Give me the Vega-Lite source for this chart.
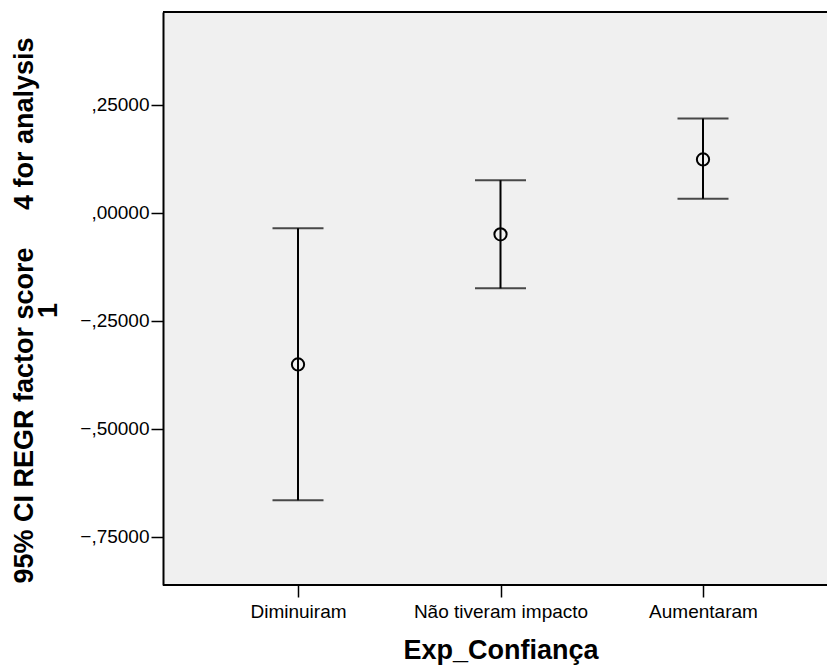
{
  "$schema": "https://vega.github.io/schema/vega-lite/v6.json",
  "autosize": "none",
  "width": 664,
  "height": 573,
  "padding": {"left": 163, "top": 12, "right": 0, "bottom": 84},
  "background": "white",
  "config": {
    "font": "Liberation Sans",
    "view": {"fill": "#f0f0f0", "stroke": null},
    "axis": {
      "grid": false,
      "domainColor": "black",
      "domainWidth": 2,
      "tickColor": "black",
      "tickWidth": 1.5,
      "tickSize": 12,
      "labelColor": "black",
      "labelFont": "Liberation Sans",
      "labelFontSize": 19,
      "titleColor": "black",
      "titleFont": "Liberation Sans",
      "titleFontWeight": "bold",
      "titleFontSize": 27
    }
  },
  "data": {
    "values": [
      {"g": "Diminuiram", "mean": -0.351, "lo": -0.665, "hi": -0.036},
      {"g": "Não tiveram impacto", "mean": -0.050, "lo": -0.175, "hi": 0.075},
      {"g": "Aumentaram", "mean": 0.123, "lo": 0.032, "hi": 0.218}
    ]
  },
  "layer": [
    {
      "mark": {"type": "rule", "color": "black", "strokeWidth": 2},
      "encoding": {
        "x": {
          "field": "g",
          "type": "nominal",
          "sort": null,
          "scale": {"type": "point", "range": [135, 540], "padding": 0},
          "axis": {
            "title": "Exp_Confiança",
            "domain": false,
            "labelAngle": 0,
            "labelPadding": 5,
            "titleY": 73,
            "titleBaseline": "alphabetic"
          }
        },
        "y": {
          "field": "lo",
          "type": "quantitative",
          "scale": {"domain": [-0.861, 0.464], "nice": false, "zero": false},
          "axis": {
            "values": [-0.75, -0.5, -0.25, 0, 0.25],
            "labelExpr": "replace(format(datum.value, '.5f'), '0.', ',')",
            "labelPadding": 2,
            "title": ["95% CI REGR factor score\u00a0\u00a0\u00a0\u00a0\u00a04 for analysis", "1"],
            "titleX": -131,
            "titleY": 298,
            "titleBaseline": "alphabetic",
            "titleLineHeight": 24,
            "titleAngle": -90
          }
        },
        "y2": {"field": "hi"}
      }
    },
    {
      "mark": {"type": "tick", "orient": "horizontal", "color": "black", "thickness": 2, "size": 51},
      "encoding": {
        "x": {"field": "g", "type": "nominal", "sort": null},
        "y": {"field": "lo", "type": "quantitative"}
      }
    },
    {
      "mark": {"type": "tick", "orient": "horizontal", "color": "black", "thickness": 2, "size": 51},
      "encoding": {
        "x": {"field": "g", "type": "nominal", "sort": null},
        "y": {"field": "hi", "type": "quantitative"}
      }
    },
    {
      "mark": {"type": "point", "shape": "circle", "filled": false, "color": "black", "strokeWidth": 2, "size": 150, "opacity": 1},
      "encoding": {
        "x": {"field": "g", "type": "nominal", "sort": null},
        "y": {"field": "mean", "type": "quantitative"}
      }
    },
    {
      "data": {"values": [{"b": 0.464}, {"b": -0.861}]},
      "mark": {"type": "rule", "color": "black", "strokeWidth": 2},
      "encoding": {"y": {"field": "b", "type": "quantitative"}}
    }
  ]
}
